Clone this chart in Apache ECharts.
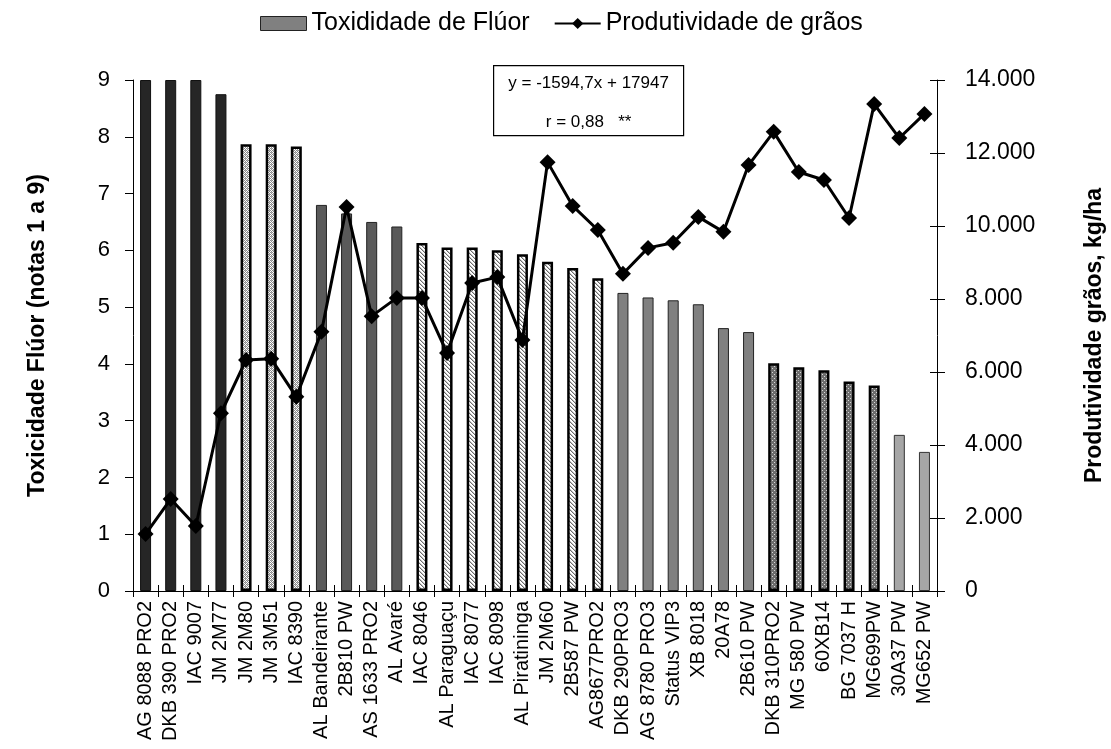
<!DOCTYPE html>
<html>
<head>
<meta charset="utf-8">
<script src="https://cdn.jsdelivr.net/npm/echarts@6/dist/echarts.min.js"></script>
<style>
html,body{margin:0;padding:0;background:#fff;}
#main{width:1111px;height:749px;}
</style>
</head>
<body>
<div id="main"></div>
<script>
// ---- data ----
const categories = ['AG 8088 PRO2','DKB 390 PRO2','IAC 9007','JM 2M77','JM 2M80','JM 3M51','IAC 8390',
  'AL Bandeirante','2B810 PW','AS 1633 PRO2','AL Avaré','IAC 8046','AL Paraguaçu','IAC 8077','IAC 8098',
  'AL Piratininga','JM 2M60','2B587 PW','AG8677PRO2','DKB 290PRO3','AG 8780 PRO3','Status VIP3','XB 8018',
  '20A78','2B610 PW','DKB 310PRO2','MG 580 PW','60XB14','BG 7037 H','MG699PW','30A37 PW','MG652 PW'];
const toxicidade = [9, 9, 9, 8.75, 7.87, 7.87, 7.83, 6.8, 6.65, 6.5, 6.42, 6.13, 6.05, 6.05, 6.0, 5.93,
  5.8, 5.69, 5.51, 5.25, 5.17, 5.12, 5.05, 4.63, 4.56, 4.01, 3.94, 3.89, 3.69, 3.62, 2.75, 2.45];
const produtividade = [1560, 2520, 1780, 4870, 6330, 6360, 5320, 7100, 10520, 7530, 8030, 8030, 6520, 8440,
  8600, 6880, 11750, 10550, 9890, 8690, 9400, 9540, 10250, 9840, 11670, 12580, 11480, 11260, 10220, 13340,
  12410, 13070];
const grupo = ['A','A','A','A','B','B','B','C','C','C','C','D','D','D','D','D','D','D','D',
  'E','E','E','E','E','E','F','F','F','F','F','G','G'];
const leftTicks = {min: 0, max: 9, interval: 1};
const rightTicks = {min: 0, max: 14000, interval: 2000};
const seriesNames = ['Toxididade de Flúor', 'Produtividade de grãos'];
const equationText = ['y = -1594,7x + 17947', 'r = 0,88   **'];

// ---- patterns ----
function pat(size, draw) {
  const c = document.createElement('canvas');
  c.width = size; c.height = size;
  const g = c.getContext('2d');
  draw(g, size);
  return {image: c, repeat: 'repeat'};
}
const crossPat = pat(4, (g, s) => {
  g.fillStyle = '#fff'; g.fillRect(0, 0, s, s);
  g.fillStyle = '#8a8a8a';
  g.fillRect(0, 0, 1, 1); g.fillRect(2, 0, 1, 1); g.fillRect(1, 1, 1, 1);
  g.fillRect(0, 2, 1, 1); g.fillRect(2, 2, 1, 1); g.fillRect(3, 1, 1, 1); g.fillRect(3, 3, 1, 1); g.fillRect(1, 3, 1, 1);
  g.fillStyle = '#b5b5b5'; g.fillRect(1, 2, 1, 1); g.fillRect(3, 0, 1, 1);
});
const diagPat = pat(4, (g, s) => {
  g.fillStyle = '#fff'; g.fillRect(0, 0, s, s);
  g.fillStyle = '#6a6a6a';
  for (let i = 0; i < s; i++) g.fillRect(i, i, 1, 1);
  g.fillStyle = '#c8c8c8';
  for (let i = 0; i < s; i++) g.fillRect((i + 1) % s, i, 1, 1);
});
const dotPat = pat(4, (g, s) => {
  g.fillStyle = '#6e6e6e'; g.fillRect(0, 0, s, s);
  g.fillStyle = '#d8d8d8';
  g.fillRect(0, 0, 1, 1); g.fillRect(2, 2, 1, 1);
});
const groupStyle = {
  A: {color: '#262626', borderColor: '#111', borderWidth: 1},
  B: {color: crossPat, borderColor: '#000', borderWidth: 2.5},
  C: {color: '#5a5a5a', borderColor: '#222', borderWidth: 1},
  D: {color: diagPat, borderColor: '#000', borderWidth: 2.5},
  E: {color: '#808080', borderColor: '#222', borderWidth: 1},
  F: {color: dotPat, borderColor: '#000', borderWidth: 2.5},
  G: {color: '#a6a6a6', borderColor: '#333', borderWidth: 1}
};

const FONT = '"Liberation Sans", Arial, sans-serif';
const chart = echarts.init(document.getElementById('main'), null, {renderer: 'canvas'});
const grid = {left: 133, right: 174, top: 80, bottom: 158, containLabel: false, outerBoundsMode: 'none'};

chart.setOption({
  backgroundColor: '#fff',
  animation: false,
  textStyle: {fontFamily: FONT},
  legend: {
    top: 6, left: 255, itemGap: 24, itemWidth: 46, itemHeight: 14,
    textStyle: {fontFamily: FONT, fontSize: 25, color: '#000'},
    data: [
      {name: seriesNames[0], icon: 'rect', itemStyle: {color: '#808080', borderColor: '#222', borderWidth: 1}},
      {name: seriesNames[1]}
    ]
  },
  grid: grid,
  xAxis: [{
    type: 'category', data: categories, boundaryGap: true,
    axisLine: {lineStyle: {color: '#000', width: 1}},
    axisTick: {show: true, interval: 0, length: 6, lineStyle: {color: '#000'}},
    axisLabel: {interval: 0, rotate: 90, fontSize: 20, color: '#000', fontFamily: FONT, margin: 10}
  }, {
    type: 'category', data: categories, boundaryGap: true, position: 'bottom',
    axisLine: {show: false},
    axisTick: {show: true, inside: true, interval: 0, length: 6, lineStyle: {color: '#000'}},
    axisLabel: {show: false}
  }],
  yAxis: [{
    type: 'value', position: 'left', min: leftTicks.min, max: leftTicks.max, interval: leftTicks.interval,
    name: 'Toxicidade Flúor (notas 1 a 9)', nameLocation: 'middle', nameRotate: 90, nameGap: 84,
    nameTextStyle: {fontFamily: FONT, fontSize: 23, fontWeight: 'bold', color: '#000'},
    axisLine: {show: true, lineStyle: {color: '#000', width: 1}},
    axisTick: {show: true, length: 8, lineStyle: {color: '#000'}},
    splitLine: {show: false},
    axisLabel: {fontSize: 22, color: '#000', fontFamily: FONT, margin: 23}
  }, {
    type: 'value', position: 'right', min: rightTicks.min, max: rightTicks.max, interval: rightTicks.interval,
    name: 'Produtividade grãos, kg/ha', nameLocation: 'middle', nameRotate: 90, nameGap: 146,
    nameTextStyle: {fontFamily: FONT, fontSize: 23, fontWeight: 'bold', color: '#000'},
    axisLine: {show: true, lineStyle: {color: '#000', width: 1}},
    axisTick: {show: true, length: 8, lineStyle: {color: '#000'}},
    splitLine: {show: false},
    axisLabel: {fontSize: 23, color: '#000', fontFamily: FONT, margin: 28,
      formatter: v => v === 0 ? '0' : (v / 1000).toFixed(3)}
  }, {
    type: 'value', position: 'right', min: rightTicks.min, max: rightTicks.max, interval: rightTicks.interval,
    axisLine: {show: false}, splitLine: {show: false}, axisLabel: {show: false},
    axisTick: {show: true, inside: true, length: 7, lineStyle: {color: '#000'}}
  }],
  series: [{
    name: seriesNames[0], type: 'bar', xAxisIndex: 0, yAxisIndex: 0, barWidth: 11,
    data: toxicidade.map((v, i) => ({value: v, itemStyle: groupStyle[grupo[i]]})),
    itemStyle: {color: '#808080'}
  }, {
    name: seriesNames[1], type: 'line', xAxisIndex: 0, yAxisIndex: 1, data: produtividade,
    symbol: 'diamond', symbolSize: 16,
    lineStyle: {color: '#000', width: 3}, itemStyle: {color: '#000'}, z: 5
  }],
  graphic: [{
    type: 'group', left: 493, top: 65,
    children: [
      {type: 'rect', shape: {x: 0, y: 0, width: 190, height: 70},
        style: {fill: '#fff', stroke: '#000', lineWidth: 1.2}},
      {type: 'text', x: 95, y: 18, style: {text: equationText[0], fill: '#000', font: '17px ' + FONT,
        textAlign: 'center', textVerticalAlign: 'middle'}},
      {type: 'text', x: 95, y: 57, style: {text: equationText[1], fill: '#000', font: '17px ' + FONT,
        textAlign: 'center', textVerticalAlign: 'middle'}}
    ]
  }]
});
</script>
</body>
</html>
